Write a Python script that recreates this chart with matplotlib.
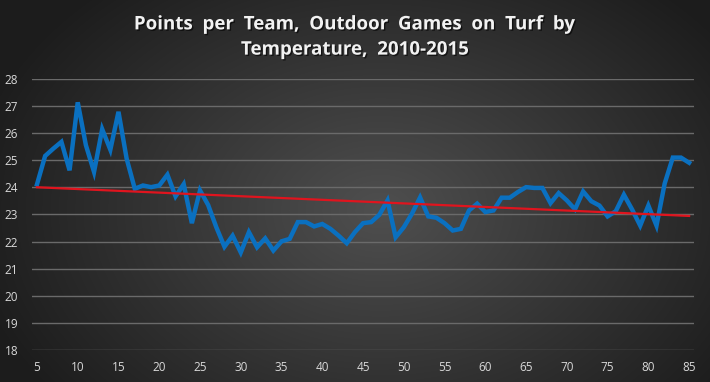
import numpy as np
import matplotlib
matplotlib.use("Agg")
import matplotlib.pyplot as plt
import matplotlib.patheffects as pe

# temperature (deg F) and points per team
temps = list(range(5, 86))
points = [
    24.11, 25.16, 25.43, 25.68, 24.63, 27.14, 25.56, 24.57, 26.15, 25.39,   # 5-14
    26.79, 25.06, 23.95, 24.07, 24.01, 24.07, 24.47, 23.67, 24.12, 22.68,   # 15-24
    23.89, 23.35, 22.53, 21.81, 22.22, 21.60, 22.35, 21.79, 22.12, 21.67,   # 25-34
    22.01, 22.10, 22.72, 22.72, 22.56, 22.65, 22.47, 22.22, 21.94, 22.35,   # 35-44
    22.68, 22.72, 22.99, 23.52, 22.16, 22.53, 23.03, 23.63, 22.93, 22.88,   # 45-54
    22.68, 22.41, 22.47, 23.15, 23.40, 23.09, 23.15, 23.62, 23.62, 23.83,   # 55-64
    24.01, 23.98, 23.98, 23.42, 23.79, 23.52, 23.19, 23.85, 23.49, 23.33,   # 65-74
    22.93, 23.12, 23.73, 23.19, 22.59, 23.33, 22.59, 24.14, 25.10, 25.10,   # 75-84
    24.91,                                                                   # 85
]
title = "Points  per  Team,  Outdoor  Games  on  Turf  by\nTemperature,  2010-2015"
xticks = list(range(5, 90, 5))
yticks = list(range(18, 29))

W, H = 710, 382
fig = plt.figure(figsize=(W / 100, H / 100), dpi=100)

# radial gradient background
bg = fig.add_axes([0, 0, 1, 1], zorder=-1)
yy, xx = np.mgrid[0:H, 0:W]
r = np.sqrt(((xx - 380) / 420.0) ** 2 + ((yy - 210) / 300.0) ** 2)
shade = np.clip(0.31 - 0.20 * r, 0.11, 0.31)
bg.imshow(np.dstack([shade] * 3), aspect="auto", extent=[0, 1, 0, 1])
bg.axis("off")

ax = fig.add_axes([32 / W, 1 - 350 / H, (694 - 32) / W, (350 - 79) / H])
ax.set_facecolor("none")
for s in ax.spines.values():
    s.set_visible(False)

ax.set_xlim(4.39, 85.6)
ax.set_ylim(18, 28)
ax.set_xticks(xticks)
ax.set_yticks(yticks)
ax.grid(axis="y", color="#6a6a6a", lw=1.0)
ax.set_axisbelow(True)
ax.tick_params(length=0, colors="#d9d9d9", labelsize=8.5, pad=8)
ax.tick_params(axis="y", pad=10)
for lab in ax.get_xticklabels() + ax.get_yticklabels():
    lab.set_family("Open Sans")

ax.plot(temps, points, color="#0a70c0", lw=3.2, solid_joinstyle="miter", zorder=3)

# linear trendline
k, b = np.polyfit(temps, points, 1)
tx = np.array([temps[0], temps[-1]])
ax.plot(tx, k * tx + b, color="#e0141e", lw=1.6, zorder=4)

fig.text(0.5, 1 - 37 / H, title, ha="center", va="center", color="#f2f2f2",
         fontsize=13.5, fontweight="bold", family="Open Sans", linespacing=1.35,
         path_effects=[pe.withSimplePatchShadow(offset=(1, -1), shadow_rgbFace="black", alpha=0.6)])

fig.savefig("out.png", dpi=100)
